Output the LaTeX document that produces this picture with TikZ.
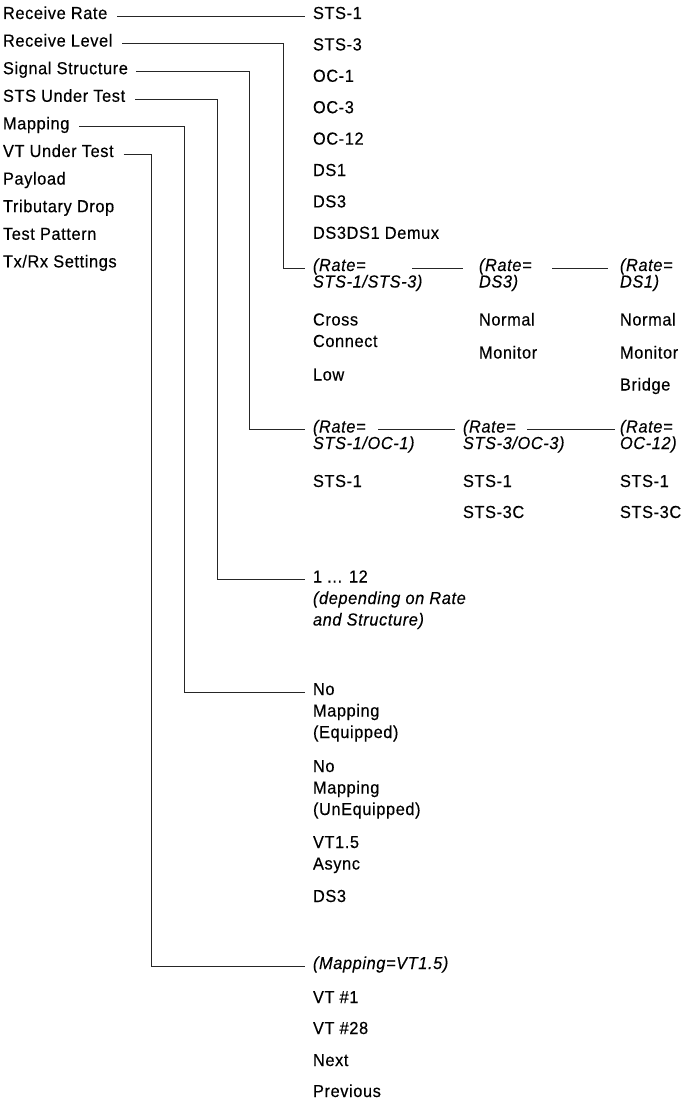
\documentclass[tikz,border=0pt]{standalone}
\usepackage{fontspec}
\setmainfont{Liberation Sans}[FakeStretch=0.94, LetterSpace=3.5, FakeBold=0.3]
\newcommand\mlines[2]{\vtop{\baselineskip=#1\lineskiplimit=-20pt\lineskip=0pt\halign{##\hfil\cr #2\crcr}}}
\newcommand\txtsize{\fontsize{17.4pt}{20pt}\selectfont}
\tikzset{
  lbl/.style={font=\txtsize, inner sep=0pt, outer sep=0pt, anchor=base west, text=black},
  hdr/.style={lbl, font=\txtsize\itshape},
  conn/.style={draw=black!85, line width=1pt}
}
\begin{document}
\begin{tikzpicture}[x=1pt,y=-1pt]
\useasboundingbox (0,0) rectangle (699,1102);
% left menu
\node[lbl] (rr) at (3,19) {Receive Rate};
\node[lbl] (rl) at (3,46.6) {Receive Level};
\node[lbl] (ss) at (3,74.2) {Signal Structure};
\node[lbl] (st) at (3,101.8) {STS Under Test};
\node[lbl] (mp) at (3,129.4) {Mapping};
\node[lbl] (vt) at (3,157) {VT Under Test};
\node[lbl] (pl) at (3,184.6) {Payload};
\node[lbl] (td) at (3,212.2) {Tributary Drop};
\node[lbl] (tp) at (3,239.8) {Test Pattern};
\node[lbl] (tx) at (3,267.4) {Tx/Rx Settings};
% receive rate options
\node[lbl] (r1) at (313,19) {STS-1};
\node[lbl] (r2) at (313,50.4) {STS-3};
\node[lbl] (r3) at (313,81.8) {OC-1};
\node[lbl] (r4) at (313,113.2) {OC-3};
\node[lbl] (r5) at (313,144.6) {OC-12};
\node[lbl] (r6) at (313,176) {DS1};
\node[lbl] (r7) at (313,207.4) {DS3};
\node[lbl] (r8) at (313,238.8) {DS3DS1 Demux};
% receive level
\node[hdr] (h1) at (313,271) {\mlines{16.5pt}{(Rate=\cr STS-1/STS-3)}};
\node[hdr] (h2) at (479,271) {\mlines{16.5pt}{(Rate=\cr DS3)}};
\node[hdr] (h3) at (620,271) {\mlines{16.5pt}{(Rate=\cr DS1)}};
\node[lbl] (a1) at (313,325.5) {\mlines{21.5pt}{Cross\cr Connect}};
\node[lbl] (a2) at (313,380.5) {Low};
\node[lbl] (b1) at (479,325.5) {Normal};
\node[lbl] (b2) at (479,358.5) {Monitor};
\node[lbl] (c1) at (620,325.5) {Normal};
\node[lbl] (c2) at (620,358.5) {Monitor};
\node[lbl] (c3) at (620,390.5) {Bridge};
% signal structure
\node[hdr] (g1) at (313,432.5) {\mlines{16.5pt}{(Rate=\cr STS-1/OC-1)}};
\node[hdr] (g2) at (463,432.5) {\mlines{16.5pt}{(Rate=\cr STS-3/OC-3)}};
\node[hdr] (g3) at (620,432.5) {\mlines{16.5pt}{(Rate=\cr OC-12)}};
\node[lbl] (s1) at (313,487) {STS-1};
\node[lbl] (s2) at (463,487) {STS-1};
\node[lbl] (s3) at (463,518) {STS-3C};
\node[lbl] (s4) at (620,487) {STS-1};
\node[lbl] (s5) at (620,518) {STS-3C};
% STS under test
\node[lbl] (n1) at (313,582.5) {\mlines{21.5pt}{1 ... 12\cr \itshape (depending on Rate\cr \itshape and Structure)}};
% mapping
\node[lbl] (m1) at (313,695) {\mlines{21.5pt}{No\cr Mapping\cr (Equipped)}};
\node[lbl] (m2) at (313,772) {\mlines{21.5pt}{No\cr Mapping\cr (UnEquipped)}};
\node[lbl] (m3) at (313,848) {\mlines{21.5pt}{VT1.5\cr Async}};
\node[lbl] (m4) at (313,902) {DS3};
% VT under test
\node[hdr] (v0) at (313,969) {(Mapping=VT1.5)};
\node[lbl] (v1) at (313,1003) {VT \#1};
\node[lbl] (v2) at (313,1034) {VT \#28};
\node[lbl] (v3) at (313,1066) {Next};
\node[lbl] (v4) at (313,1097) {Previous};
% connectors
\draw[conn] ([xshift=10pt]rr.mid east) -- ([xshift=-8pt]r1.mid west);
\draw[conn] ([xshift=10pt]rl.mid east) -| ([xshift=-30pt]h1.mid west) -- ([xshift=-8pt]h1.mid west);
\draw[conn] ([xshift=8pt]ss.mid east) -| ([xshift=-64pt]g1.mid west) -- ([xshift=-8pt]g1.mid west);
\draw[conn] ([xshift=10pt]st.mid east) -| ([xshift=-96pt]n1.mid west) -- ([xshift=-8pt]n1.mid west);
\draw[conn] ([xshift=10pt]mp.mid east) -| ([xshift=-129pt]m1.mid west) -- ([xshift=-8pt]m1.mid west);
\draw[conn] ([xshift=10pt]vt.mid east) -| ([xshift=-162pt]v0.mid west) -- ([xshift=-8pt]v0.mid west);
\draw[conn] ([xshift=-67pt]h2.mid west) -- ([xshift=-16pt]h2.mid west);
\draw[conn] ([xshift=-68pt]h3.mid west) -- ([xshift=-12pt]h3.mid west);
\draw[conn] ([xshift=-85pt]g2.mid west) -- ([xshift=-8pt]g2.mid west);
\draw[conn] ([xshift=-93pt]g3.mid west) -- ([xshift=-5pt]g3.mid west);
\end{tikzpicture}
\end{document}
